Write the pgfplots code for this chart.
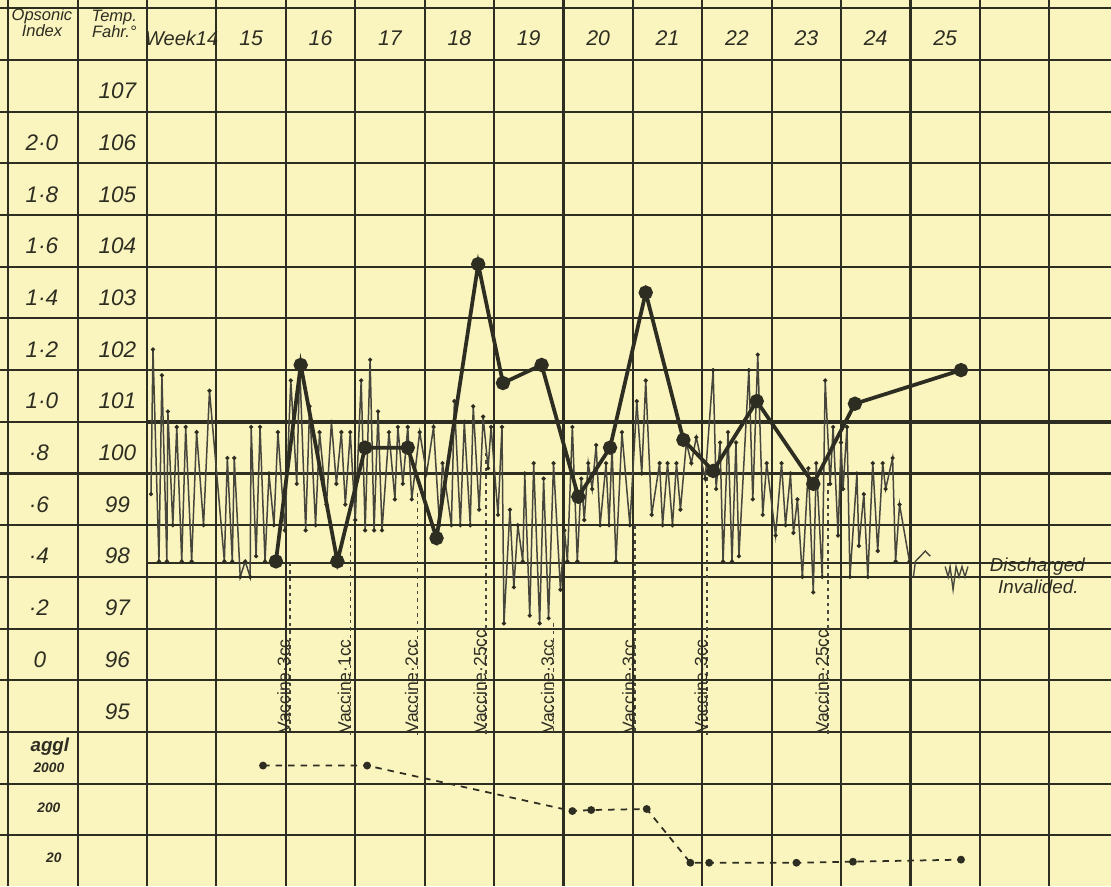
\documentclass[border=0pt]{standalone}
\usepackage{fontspec}
\setmainfont{Liberation Sans}
\usepackage{pgfplots}
\pgfplotsset{compat=1.18}
\usepackage{pgfplotstable}
\definecolor{paper}{RGB}{250,244,190}
\definecolor{ink}{RGB}{45,45,34}
\definecolor{pencil}{RGB}{70,70,60}

% temperature (deg F), twice-daily readings; day 0 = start of week 14
\pgfplotstableread{
day T
0.4 99.6
0.6 102.4
1.2 98.3
1.5 101.9
2.0 98.3
2.1 101.2
2.6 99.0
3.0 100.9
3.5 98.3
3.9 100.9
4.5 98.3
5.0 100.8
5.7 99.0
6.3 101.6
7.8 98.3
8.1 100.3
8.6 98.3
8.8 100.3
9.4 98.0
9.9 98.3
10.4 98.0
10.5 100.9
11.0 98.4
11.4 100.9
11.9 98.3
12.3 100.0
12.8 99.0
13.2 100.8
13.9 98.9
14.5 101.8
15.1 99.8
15.4 102.1
16.0 98.9
16.4 101.3
17.0 99.0
17.4 100.8
18.1 99.4
18.6 101.0
19.1 99.8
19.6 100.8
20.0 99.4
20.5 100.8
21.0 99.1
21.6 101.8
22.0 98.9
22.5 102.2
22.9 98.9
23.3 101.2
23.7 98.9
24.4 100.8
25.0 99.5
25.3 100.9
25.8 99.8
26.3 100.9
26.7 99.5
27.5 100.8
28.2 100.0
28.9 100.9
29.5 99.0
29.8 100.2
30.7 99.0
31.0 101.4
31.6 99.0
32.0 101.0
32.6 99.0
32.9 101.3
33.5 99.3
33.9 101.1
34.4 100.1
34.7 100.9
35.4 99.2
35.8 100.9
36.0 97.1
36.6 99.3
37.0 97.8
37.4 99.0
37.9 98.3
38.1 100.0
38.6 97.25
39.0 100.2
39.6 97.1
40.0 99.9
40.5 97.2
41.0 100.2
41.7 97.75
42.1 98.9
42.4 98.3
42.9 100.9
43.4 98.3
43.8 99.9
44.1 99.1
44.5 100.2
44.9 99.7
45.3 100.55
45.7 99.0
46.3 100.2
46.6 99.0
46.9 100.5
47.3 98.3
47.9 100.8
48.7 99.0
49.4 101.4
49.9 100.0
50.3 101.8
50.9 99.2
51.7 100.2
52.0 99.0
52.5 100.2
53.0 99.0
53.4 100.2
53.8 99.3
54.4 100.6
54.9 100.2
55.4 100.7
56.3 99.9
57.1 102.0
57.4 99.7
57.8 100.6
58.1 98.3
58.6 100.8
59.0 98.3
59.4 100.6
59.7 98.4
60.7 102.0
61.1 99.5
61.6 102.3
62.1 99.2
62.5 100.2
63.4 98.8
64.0 100.2
64.4 99.0
64.9 100.0
65.2 98.85
65.6 99.5
66.1 98.0
66.7 100.1
67.2 97.7
67.5 100.2
68.1 98.0
68.4 101.8
68.9 99.8
69.2 100.9
69.7 98.8
70.0 100.6
70.2 99.7
70.6 100.9
70.9 98.0
71.6 100.0
71.8 98.6
72.3 99.6
72.7 98.0
73.2 100.2
73.7 98.5
74.2 100.2
74.5 99.7
75.2 100.3
75.5 98.3
75.9 99.4
76.9 98.3
}\temptable

\pgfplotstableread{
day T
77.3 98.0
77.5 98.3
78.0 98.4
78.5 98.5
79.0 98.4
}\afterA

\pgfplotstableread{
day T
80.5 98.2
80.8 98.0
81.0 98.2
81.3 97.75
81.6 98.2
81.9 98.0
82.2 98.2
82.5 98.0
82.8 98.2
}\afterB

% opsonic index
\pgfplotstableread{
day oi
13.0 0.46
15.5 1.22
19.2 0.46
22.0 0.90
26.3 0.90
29.2 0.55
33.4 1.61
35.9 1.15
39.8 1.22
43.5 0.71
46.7 0.90
50.3 1.50
54.1 0.93
57.1 0.81
61.5 1.08
67.2 0.76
71.4 1.07
82.1 1.20
}\opsonic

% agglutination (chart row position: 2000 / 200 / 20 rows)
\pgfplotstableread{
day row
11.7 94.35
22.2 94.35
42.9 93.47
44.8 93.49
50.4 93.51
54.8 92.47
56.7 92.47
65.5 92.47
71.2 92.49
82.1 92.53
}\aggl

\newcommand{\wk}{\fontsize{8.5}{9}\selectfont\itshape}
\newcommand{\tl}{\fontsize{9}{10}\selectfont\itshape}
\newcommand{\vl}{\fontsize{7}{8}\selectfont}

\begin{document}
\begin{tikzpicture}
\begin{axis}[
  name=main,
  scale only axis, width=444.4pt, height=354.4pt,
  xmin=-14.83, xmax=97.23, ymin=92.02, ymax=109.16,
  axis background/.style={fill=paper},
  axis line style={draw=none},
  tick style={draw=none},
  xtick={-14,-7,0,7,14,21,28,35,42,49,56,63,70,77,84,91},
  ytick={93,94,95,96,97,98,99,100,101,102,103,104,105,106,107,108,109},
  xticklabels={}, yticklabels={},
  grid=major,
  major grid style={ink, line width=0.85pt},
  clip=true,
]
% normal lines
\addplot[ink, line width=1.7pt] coordinates {(0,101) (97.3,101)};
\addplot[ink, line width=0.8pt] coordinates {(0,98.27) (97.3,98.27)};

% vaccine dotted lines
\foreach \d/\t in {14.4/98.27, 20.5/98.77, 27.3/99.62, 34.2/100.40, 41.0/97.10, 49.2/99.00, 56.5/100.07, 68.7/99.82}{
  \edef\tmp{\noexpand\addplot[pencil, line width=0.6pt, dash pattern=on 1.4pt off 1.6pt] coordinates {(\d,\t) (\d,94.95)};}
  \tmp
}

% temperature trace
\addplot[pencil, line width=0.6pt, mark=*, mark size=0.5pt, mark options={fill=ink, draw=ink}] table[x=day, y=T] {\temptable};
\addplot[pencil, line width=0.55pt] table[x=day, y=T] {\afterA};
\addplot[pencil, line width=0.55pt] table[x=day, y=T] {\afterB};

% opsonic index
\addplot[ink, line width=1.5pt, mark=*, mark size=2.1pt, mark options={fill=ink}] table[x=day, y expr=96+5*\thisrow{oi}] {\opsonic};

% agglutination
\addplot[ink, line width=0.7pt, dash pattern=on 2.6pt off 2.4pt, mark=*, mark size=1.2pt, mark options={solid, fill=ink}] table[x=day, y=row] {\aggl};

% vaccine labels
\node[rotate=90, anchor=base west, inner sep=0.3pt, font=\vl, text=ink] at (axis cs:14.4,94.95) {Vaccine·3cc};
\node[rotate=90, anchor=base west, inner sep=0.3pt, font=\vl, text=ink] at (axis cs:20.5,94.95) {Vaccine·1cc};
\node[rotate=90, anchor=base west, inner sep=0.3pt, font=\vl, text=ink] at (axis cs:27.3,94.95) {Vaccine·2cc};
\node[rotate=90, anchor=base west, inner sep=0.3pt, font=\vl, text=ink] at (axis cs:34.2,94.95) {Vaccine·25cc};
\node[rotate=90, anchor=base west, inner sep=0.3pt, font=\vl, text=ink] at (axis cs:41.0,94.95) {Vaccine·3cc};
\node[rotate=90, anchor=base west, inner sep=0.3pt, font=\vl, text=ink] at (axis cs:49.2,94.95) {Vaccine·3cc};
\node[rotate=90, anchor=base west, inner sep=0.3pt, font=\vl, text=ink] at (axis cs:56.5,94.95) {Vaccine·3cc};
\node[rotate=90, anchor=base west, inner sep=0.3pt, font=\vl, text=ink] at (axis cs:68.7,94.95) {Vaccine·25cc};

% header
\node[font=\fontsize{6.6}{6.6}\selectfont\itshape, align=center, text=ink, inner sep=0pt] at (axis cs:-10.6,108.72) {Opsonic\\Index};
\node[font=\fontsize{6.6}{6.6}\selectfont\itshape, align=center, text=ink, inner sep=0pt] at (axis cs:-3.3,108.70) {Temp.\\Fahr.°};
\node[font=\fontsize{8}{9}\selectfont\itshape, text=ink, inner sep=0pt] at (axis cs:3.5,108.42) {Week14};
\foreach \w/\c in {15/10.5,16/17.5,17/24.5,18/31.5,19/38.5,20/45.5,21/52.5,22/59.5,23/66.5,24/73.5,25/80.5}{
  \edef\tmp{\noexpand\node[font=\noexpand\wk, text=ink] at (axis cs:\c,108.42) {\w};}
  \tmp
}

% temperature labels
\foreach \v in {95,...,107}{
  \edef\tmp{\noexpand\node[font=\noexpand\tl, text=ink] at (axis cs:-3.0,\v.4) {\v};}
  \tmp
}
% opsonic labels
\node[font=\tl, text=ink] at (axis cs:-10.6,106.4) {2·0};
\node[font=\tl, text=ink] at (axis cs:-10.6,105.4) {1·8};
\node[font=\tl, text=ink] at (axis cs:-10.6,104.4) {1·6};
\node[font=\tl, text=ink] at (axis cs:-10.6,103.4) {1·4};
\node[font=\tl, text=ink] at (axis cs:-10.6,102.4) {1·2};
\node[font=\tl, text=ink] at (axis cs:-10.6,101.4) {1·0};
\node[font=\tl, text=ink] at (axis cs:-10.9,100.4) {·8};
\node[font=\tl, text=ink] at (axis cs:-10.9,99.4) {·6};
\node[font=\tl, text=ink] at (axis cs:-10.9,98.4) {·4};
\node[font=\tl, text=ink] at (axis cs:-10.9,97.4) {·2};
\node[font=\tl, text=ink] at (axis cs:-10.8,96.4) {0};

% agglutination labels
\node[font=\fontsize{7.5}{8}\selectfont\bfseries\itshape, text=ink, inner sep=0pt] at (axis cs:-9.8,94.72) {aggl};
\node[font=\fontsize{5.5}{6}\selectfont\bfseries\itshape, text=ink, inner sep=0pt] at (axis cs:-9.9,94.3) {2000};
\node[font=\fontsize{5.5}{6}\selectfont\bfseries\itshape, text=ink, inner sep=0pt] at (axis cs:-9.9,93.53) {200};
\node[font=\fontsize{5.5}{6}\selectfont\bfseries\itshape, text=ink, inner sep=0pt] at (axis cs:-9.4,92.57) {20};

% discharge note
\node[font=\fontsize{7.5}{8}\selectfont\itshape, text=ink, inner sep=0pt] at (axis cs:89.8,98.2) {Discharged};
\node[font=\fontsize{7.5}{8}\selectfont\itshape, text=ink, inner sep=0pt] at (axis cs:89.9,97.8) {Invalided.};
\end{axis}
\pgfresetboundingbox
\path[use as bounding box] (main.south west) rectangle (main.north east);
\end{tikzpicture}
\end{document}
